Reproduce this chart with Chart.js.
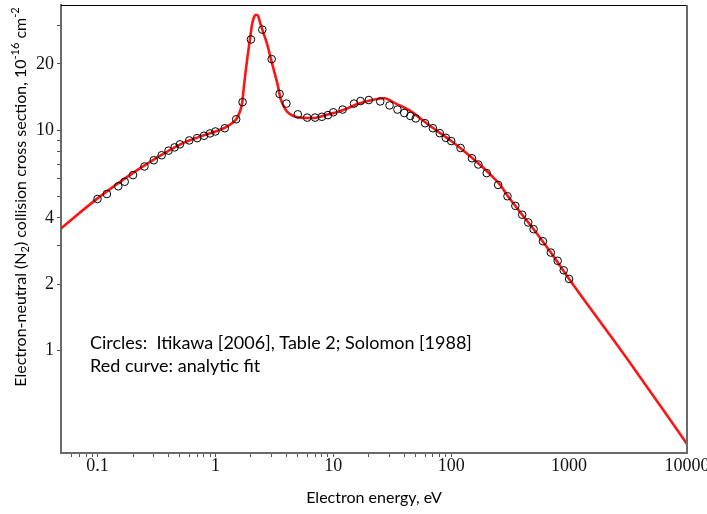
<!DOCTYPE html>
<html><head><meta charset="utf-8">
<script src="https://cdn.jsdelivr.net/npm/chart.js@4"></script>
<style>html,body{margin:0;padding:0;background:#fff;}</style>
</head><body>
<canvas id="c" width="707" height="514" style="display:block;width:707px;height:514px"></canvas>
<script>
// ---- data ----
const circleEnergy = [0.1,0.12,0.15,0.17,0.2,0.25,0.3,0.35,0.4,0.45,0.5,0.6,0.7,0.8,0.9,1.0,
  1.2,1.5,1.7,2.0,2.5,3.0,3.5,4,5,6,7,8,9,10,12,15,17,20,25,30,35,40,45,50,
  60,70,80,90,100,120,150,170,200,250,300,350,400,450,500,600,700,800,900,1000];
const circleSigma = [4.87,5.13,5.56,5.83,6.25,6.84,7.30,7.69,8.07,8.35,8.62,8.98,9.20,9.43,9.66,9.86,
  10.2,11.2,13.4,25.8,28.6,21.0,14.6,13.2,11.8,11.4,11.4,11.5,11.7,12.05,12.4,13.2,13.55,13.7,13.5,12.95,12.4,11.96,11.6,11.3,
  10.75,10.2,9.69,9.23,8.92,8.30,7.45,6.98,6.38,5.64,5.01,4.53,4.13,3.81,3.55,3.13,2.78,2.55,2.31,2.11];
const fitEnergy = [0.049,0.1,0.2,0.3,0.5,0.7,1.0,1.2,1.4,1.5,1.6,1.69,1.74,1.86,1.95,2.05,2.15,2.22,2.3,2.41,2.5,
  2.75,2.94,3.15,3.35,3.57,3.8,4.07,4.5,5,6.6,8.6,12,16.5,22.9,26.9,34.9,45.3,58.7,76.3,99,128,167,216,263,300,400,500,700,1000,3000,10000];
const fitSigma = [3.58,4.9,6.4,7.35,8.6,9.25,9.85,10.25,10.8,11.2,12.0,13.4,15.6,21.0,25.2,30.4,33.0,33.4,33.0,30.4,28.6,
  24.5,21.3,18.5,16.3,13.9,12.8,12.1,11.65,11.45,11.35,11.7,12.3,13.2,13.8,13.95,13.1,12.2,10.98,9.9,8.98,8.05,7.13,6.27,5.60,5.05,4.13,3.55,2.78,2.11,0.94,0.376];
const xTickValues = [0.06,0.07,0.08,0.09,0.1,0.2,0.3,0.4,0.5,0.6,0.7,0.8,0.9,1,2,3,4,5,6,7,8,9,10,20,30,40,50,60,70,80,90,100,1000,10000];
const xTickLabels = ['0.1','1','10','100','1000','10000'];
const xTickMarkless = [1000,10000];
const yTickValues = [1,2,3,4,5,6,7,8,9,10,20,30];
const yTickLabels = ['1','2','4','10','20'];
const noteLines = ['Circles:  Itikawa [2006], Table 2; Solomon [1988]','Red curve: analytic fit'];
const xTitle = 'Electron energy, eV';
const yTitleParts = [['Electron-neutral (N',''],['2','sub'],[') collision cross section, 10',''],['-16','sup'],[' cm',''],['-2','sup']];

const SANS = 'Lato, "Liberation Sans", sans-serif';
const SERIF = '"Liberation Serif", "DejaVu Serif", serif';

function fmt(v){ return String(+v.toPrecision(6)); }

const decor = {
  id:'decor',
  afterDraw(chart){
    const {ctx, chartArea:a} = chart;
    ctx.save();
    ctx.strokeStyle='#000'; ctx.lineWidth=1;
    ctx.beginPath(); ctx.moveTo(a.left, a.top+0.5); ctx.lineTo(a.right, a.top+0.5); ctx.stroke();
    ctx.strokeStyle='#6a6a6a'; ctx.lineWidth=2;
    ctx.beginPath(); ctx.moveTo(a.right, a.top); ctx.lineTo(a.right, a.bottom+1); ctx.stroke();
    // note text
    ctx.fillStyle='#000'; ctx.font='18px '+SANS; ctx.textBaseline='middle'; ctx.textAlign='left';
    noteLines.forEach((t,i)=>ctx.fillText(t, a.left+29, a.top+338+i*23));
    // y title
    ctx.translate(21, 197); ctx.rotate(-Math.PI/2);
    const fonts = {'':'16px '+SANS, sub:'11px '+SANS, sup:'11px '+SANS};
    const offs = {'':0, sub:4, sup:-6};
    let total=0;
    yTitleParts.forEach(p=>{ctx.font=fonts[p[1]]; total+=ctx.measureText(p[0]).width;});
    let x=-total/2;
    ctx.textBaseline='middle';
    yTitleParts.forEach(p=>{ctx.font=fonts[p[1]]; ctx.fillText(p[0], x, offs[p[1]]); x+=ctx.measureText(p[0]).width;});
    ctx.restore();
  }
};

new Chart(document.getElementById('c'), {
  type:'scatter',
  data:{ datasets:[
    { label:'Itikawa', data: circleEnergy.map((e,i)=>({x:e,y:circleSigma[i]})),
      pointStyle:'circle', pointRadius:3.8, pointBorderWidth:1, pointBorderColor:'#000',
      pointBackgroundColor:'rgba(0,0,0,0)', showLine:false },
    { label:'fit', data: fitEnergy.map((e,i)=>({x:e,y:fitSigma[i]})),
      showLine:true, pointRadius:0, borderColor:'rgb(255,20,20)', borderWidth:2.6,
      cubicInterpolationMode:'monotone' }
  ]},
  options:{
    responsive:false, devicePixelRatio:1, animation:false,
    layout:{ padding:{ top:1, right:20, left:0, bottom:0 } },
    plugins:{ legend:{display:false}, tooltip:{enabled:false} },
    scales:{
      x:{ type:'logarithmic', min:0.049, max:10000, bounds:'data',
        afterBuildTicks(s){ s.ticks = xTickValues.map(v=>({value:v})); },
        afterFit(s){ s.height=61; s.paddingLeft=0; s.paddingRight=0; },
        ticks:{ autoSkip:false, maxRotation:0, padding:0, color:'#111',
          font:{family:SERIF, size:18, lineHeight:1.0},
          callback(v){ const f=fmt(v); return xTickLabels.includes(f)?f:''; } },
        grid:{ drawOnChartArea:false, drawTicks:true, tickLength:4, tickWidth:1,
          tickColor(c){ const v=c.tick?c.tick.value:0; return xTickMarkless.includes(v)?'rgba(0,0,0,0)':'#555'; } },
        border:{ display:true, color:'#6a6a6a', width:2 },
        title:{ display:true, text:xTitle, color:'#000', font:{family:SANS, size:16, lineHeight:1.2}, padding:{top:0,bottom:7} }
      },
      y:{ type:'logarithmic', min:0.342, max:37, bounds:'data',
        afterBuildTicks(s){ s.ticks = yTickValues.map(v=>({value:v})); },
        afterFit(s){ s.width=61; s.paddingTop=0; s.paddingBottom=0; },
        ticks:{ autoSkip:false, padding:3, color:'#111',
          font:{family:SERIF, size:18, lineHeight:1.0},
          callback(v){ const f=fmt(v); return yTickLabels.includes(f)?f:''; } },
        grid:{ drawOnChartArea:false, drawTicks:true, tickLength:4, tickWidth:1, tickColor:'#555' },
        border:{ display:true, color:'#6a6a6a', width:2 }
      }
    }
  },
  plugins:[decor]
});
</script>
</body></html>
